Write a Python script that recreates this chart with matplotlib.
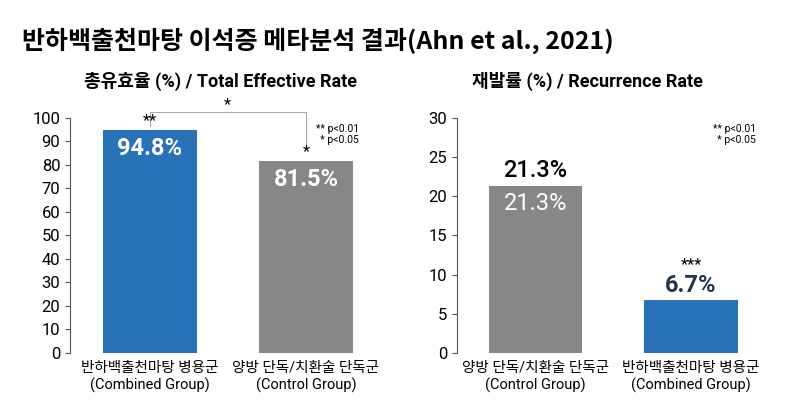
import matplotlib.pyplot as plt

plt.rcParams['font.family'] = ['Roboto', 'Noto Sans CJK KR', 'DejaVu Sans']

eff_labels = ["반하백출천마탕 병용군\n(Combined Group)", "양방 단독/치환술 단독군\n(Control Group)"]
eff_values = [94.8, 81.5]
eff_stars = ["**", "*"]
rec_labels = ["양방 단독/치환술 단독군\n(Control Group)", "반하백출천마탕 병용군\n(Combined Group)"]
rec_values = [21.3, 6.7]
blue = "#2a72b8"
grey = "#878787"

fig = plt.figure(figsize=(8, 4.08), dpi=100)
fig.text(0.027, 0.9, "반하백출천마탕 이석증 메타분석 결과(Ahn et al., 2021)",
         fontsize=18, fontweight='bold', ha='left', va='center',
         family=['Noto Sans CJK KR', 'DejaVu Sans'])

ax1 = fig.add_axes([0.0875, 0.135, 0.375, 0.576])
ax1.bar([0, 1], eff_values, width=0.6, color=[blue, grey])
ax1.set_xlim(-0.51, 1.41)
ax1.set_ylim(0, 100)
ax1.set_yticks(range(0, 101, 10))
ax1.set_xticks([0, 1])
ax1.set_xticklabels(eff_labels, fontsize=10.5)
ax1.set_title("총유효율 (%) / Total Effective Rate", fontsize=13, fontweight='bold', pad=22)
for i, v in enumerate(eff_values):
    ax1.text(i, v - 3, f"{v}%", color='white', fontsize=17, fontweight='bold', ha='center', va='top')
ax1.text(0, 95.5, eff_stars[0], ha='center', va='bottom', fontsize=12)
ax1.text(1, 82.5, eff_stars[1], ha='center', va='bottom', fontsize=12)
ax1.plot([0, 0, 1, 1], [96.5, 102.5, 102.5, 87], color='#aaaaaa', lw=0.8, clip_on=False)
ax1.text(0.5, 102.5, "*", ha='center', va='bottom', fontsize=12)
ax1.text(1.34, 93, "** p<0.01\n  * p<0.05", fontsize=7.5, ha='right', va='center')

ax2 = fig.add_axes([0.571, 0.135, 0.39, 0.576])
ax2.bar([0, 1], rec_values, width=0.6, color=[grey, blue])
ax2.set_xlim(-0.506, 1.5)
ax2.set_ylim(0, 30)
ax2.set_yticks(range(0, 31, 5))
ax2.set_xticks([0, 1])
ax2.set_xticklabels(rec_labels, fontsize=10.5)
ax2.set_title("재발률 (%) / Recurrence Rate", fontsize=13, fontweight='bold', pad=22, x=0.42)
ax2.text(0, rec_values[0] + 0.5, f"{rec_values[0]}%", fontsize=17, fontweight='medium', ha='center', va='bottom')
ax2.text(0, rec_values[0] - 0.8, f"{rec_values[0]}%", color='white', fontsize=17, ha='center', va='top')
ax2.text(1, rec_values[1] + 0.5, f"{rec_values[1]}%", color='#1f3550', fontsize=17, fontweight='bold', ha='center', va='bottom')
ax2.text(1, rec_values[1] + 3.6, "***", fontsize=12, ha='center', va='bottom')
ax2.text(1.42, 27.9, "** p<0.01\n  * p<0.05", fontsize=7.5, ha='right', va='center')

for ax in (ax1, ax2):
    for s in ('top', 'right'):
        ax.spines[s].set_visible(False)
    ax.spines['bottom'].set_visible(False)
    ax.spines['left'].set_color('#555555')
    ax.tick_params(axis='x', length=0, pad=6)
    ax.tick_params(axis='y', labelsize=12, color='#555555')

fig.savefig("out.png", dpi=100)
